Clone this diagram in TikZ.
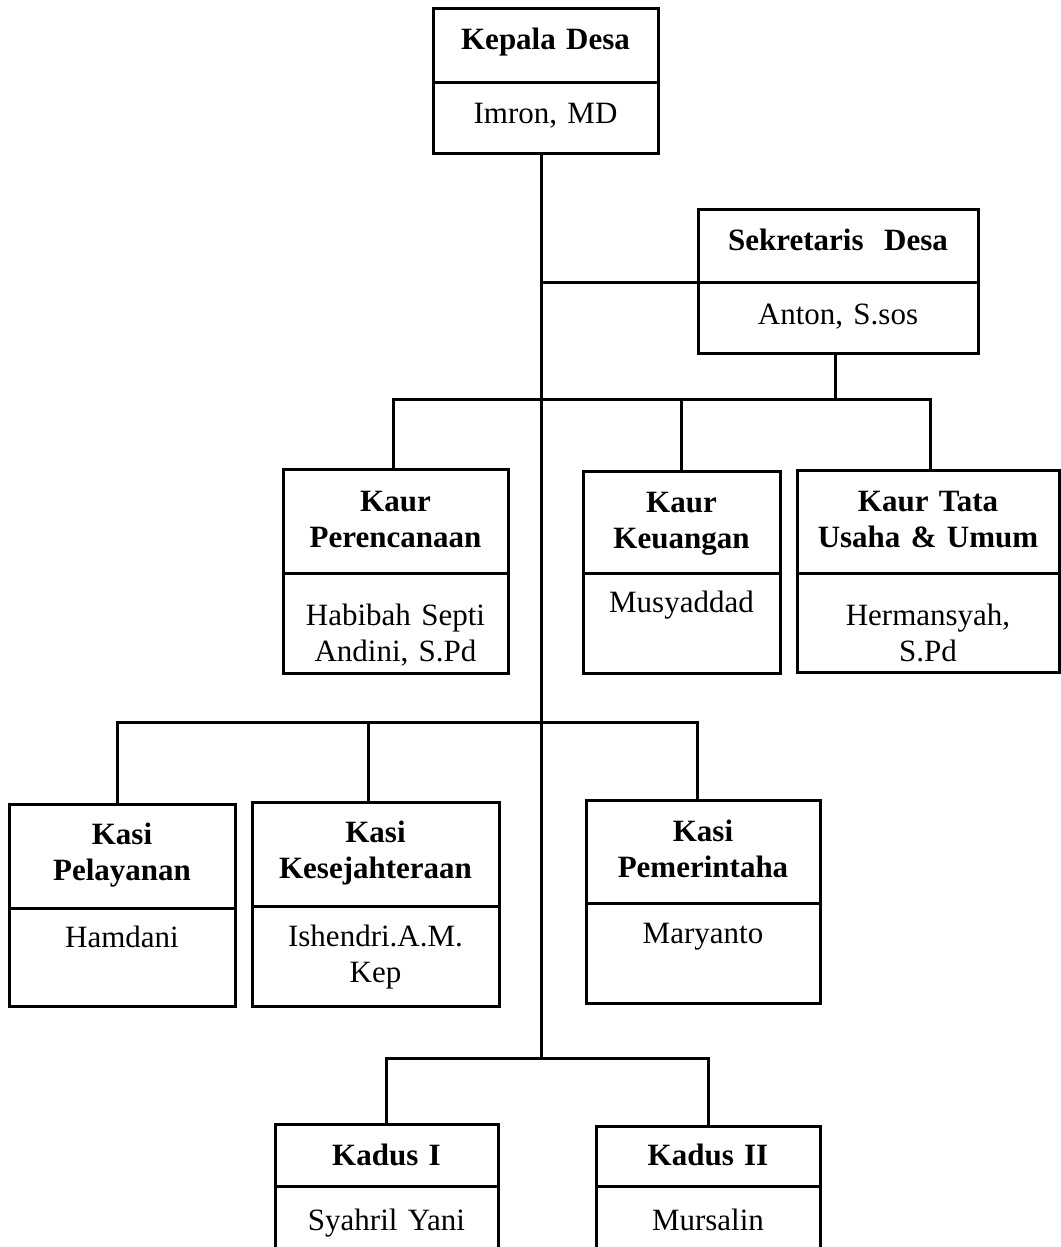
\documentclass[tikz,border=0pt]{standalone}
\usepackage{fontspec}
\setmainfont{Liberation Serif}
\usepackage{tikz}
\usetikzlibrary{calc}

\begin{document}
\begin{tikzpicture}[x=1pt,y=-1pt,
  kotak/.style={draw, line width=3pt, inner sep=0pt, outer sep=0pt, align=center, anchor=north west, text height=41pt},
  judul/.style={kotak, font=\bfseries\fontsize{31}{36}\selectfont\frenchspacing},
  nama/.style={kotak, font=\fontsize{31}{36}\selectfont\frenchspacing},
  garis/.style={line width=3pt}]

  \useasboundingbox (0,0) rectangle (1060,1247);

  	\node[judul, text width=225pt, text depth=32pt] (kades) at (433,9) {Kepala Desa};
  	\node[nama, text width=225pt, text depth=30pt] (kadesN) at (kades.south west) {Imron, MD};

  	\node[judul, text width=280pt, text depth=32pt] (sekdes) at (698,209) {Sekretaris\ \ Desa};
  	\node[nama, text width=280pt, text height=42pt, text depth=29pt] (sekdesN) at (sekdes.south west) {Anton, S.sos};

  	\node[judul, text width=225pt, text height=42pt, text depth=62pt] (kaur1) at (283,469) {Kaur\\Perencanaan};
  	\node[nama, text width=225pt, text height=52pt, text depth=48pt] (kaur1N) at (kaur1.south west) {Habibah Septi\\Andini, S.Pd};

  	\node[judul, text width=197pt, text depth=61pt] (kaur2) at (583,471) {Kaur\\Keuangan};
  	\node[nama, text width=197pt, text height=39pt, text depth=61pt] (kaur2N) at (kaur2.south west) {Musyaddad};

  	\node[judul, text width=262pt, text depth=62pt] (kaur3) at (797,470) {Kaur Tata\\Usaha \& Umum};
  	\node[nama, text width=262pt, text height=52pt, text depth=47pt] (kaur3N) at (kaur3.south west) {Hermansyah,\\S.Pd};

  	\node[judul, text width=226pt, text height=40pt, text depth=64pt] (kasi1) at (9,804) {Kasi\\Pelayanan};
  	\node[nama, text width=226pt, text height=39pt, text depth=59pt] (kasi1N) at (kasi1.south west) {Hamdani};

  	\node[judul, text width=247pt, text height=40pt, text depth=64pt] (kasi2) at (252,802) {Kasi\\Kesejahteraan};
  	\node[nama, text width=247pt, text height=40pt, text depth=60pt] (kasi2N) at (kasi2.south west) {Ishendri.A.M.\\Kep};

  	\node[judul, text width=234pt, text depth=62pt] (kasi3) at (586,800) {Kasi\\Pemerintaha};
  	\node[nama, text width=234pt, text height=40pt, text depth=60pt] (kasi3N) at (kasi3.south west) {Maryanto};

  	\node[judul, text width=223pt, text depth=21pt] (kadus1) at (275,1124) {Kadus I};
  	\node[nama, text width=223pt, text height=44pt, text depth=60pt] (kadus1N) at (kadus1.south west) {Syahril Yani};

  	\node[judul, text width=224pt, text height=39pt, text depth=21pt] (kadus2) at (596,1126) {Kadus II};
  	\node[nama, text width=224pt, text height=44pt, text depth=60pt] (kadus2N) at (kadus2.south west) {Mursalin};

  	\coordinate (pusat) at ([xshift=-4pt]kadesN.south);
  	\coordinate (buskaur) at (541,399);
  	\coordinate (buskasi) at (541,722);
  	\coordinate (buskadus) at (541,1058);

  	\draw[garis] (pusat) -- (pusat |- buskadus);
  	\draw[garis] (sekdes.south west) -- (sekdes.south west -| pusat);

  	\draw[garis] ([xshift=-3pt]sekdesN.south) -- ([xshift=-3pt]sekdesN.south |- buskaur);
  	\draw[garis] ([xshift=-2pt]kaur1.north) |- ([xshift=2pt]kaur3.north |- buskaur) -- ([xshift=2pt]kaur3.north);
  	\draw[garis] (kaur2.north) -- (kaur2.north |- buskaur);

  	\draw[garis] ([xshift=-5pt]kasi1.north) |- ([xshift=-6pt]kasi3.north |- buskasi) -- ([xshift=-6pt]kasi3.north);
  	\draw[garis] ([xshift=-7pt]kasi2.north) -- ([xshift=-7pt]kasi2.north |- buskasi);

  	\draw[garis] (kadus1.north) |- (kadus2.north |- buskadus) -- (kadus2.north);

\end{tikzpicture}
\end{document}
